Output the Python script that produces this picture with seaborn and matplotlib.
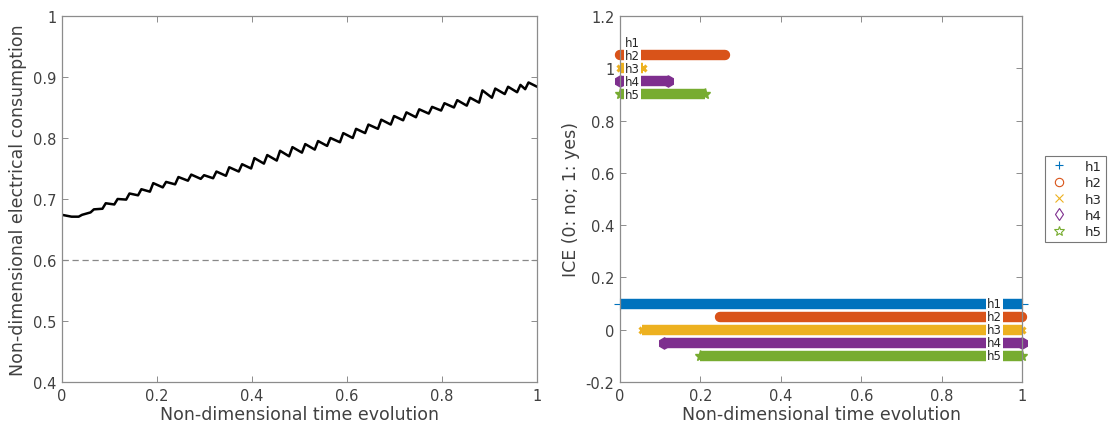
import matplotlib
matplotlib.use("Agg")
import matplotlib.pyplot as plt
from matplotlib.lines import Line2D
from matplotlib.ticker import FuncFormatter
import seaborn as sns
import pandas as pd

# ---------------- data ----------------
time_points = [0.000, 0.020, 0.035, 0.042, 0.060, 0.067, 0.085, 0.092, 0.110, 0.117,
               0.135, 0.142, 0.160, 0.167, 0.185, 0.192, 0.212, 0.219, 0.238, 0.245,
               0.265, 0.272, 0.292, 0.299, 0.318, 0.325, 0.345, 0.352, 0.372, 0.379,
               0.398, 0.405, 0.425, 0.432, 0.452, 0.459, 0.478, 0.485, 0.505, 0.512,
               0.532, 0.539, 0.558, 0.565, 0.585, 0.592, 0.612, 0.619, 0.638, 0.645,
               0.665, 0.672, 0.692, 0.699, 0.718, 0.725, 0.745, 0.752, 0.772, 0.779,
               0.798, 0.805, 0.825, 0.832, 0.852, 0.859, 0.878, 0.885, 0.905, 0.912,
               0.932, 0.939, 0.958, 0.965, 0.975, 0.982, 1.000]
consumption = [0.674, 0.671, 0.671, 0.674, 0.678, 0.683, 0.684, 0.693, 0.691, 0.700,
               0.699, 0.709, 0.706, 0.716, 0.712, 0.726, 0.719, 0.728, 0.724, 0.736,
               0.730, 0.740, 0.733, 0.739, 0.734, 0.745, 0.738, 0.752, 0.745, 0.757,
               0.750, 0.767, 0.758, 0.772, 0.763, 0.779, 0.770, 0.785, 0.776, 0.790,
               0.781, 0.795, 0.787, 0.800, 0.793, 0.808, 0.800, 0.815, 0.808, 0.822,
               0.815, 0.830, 0.822, 0.836, 0.829, 0.842, 0.834, 0.847, 0.840, 0.851,
               0.845, 0.857, 0.850, 0.862, 0.853, 0.866, 0.858, 0.878, 0.866, 0.881,
               0.872, 0.884, 0.875, 0.887, 0.880, 0.891, 0.884]
reference_level = 0.6

series = ["h1", "h2", "h3", "h4", "h5"]
top_levels = [1.10, 1.05, 1.00, 0.95, 0.90]
top_start = [0.0, 0.0, 0.0, 0.0, 0.0]
top_end = [0.0, 0.26, 0.057, 0.119, 0.211]
bottom_levels = [0.10, 0.05, 0.00, -0.05, -0.10]
bottom_start = [0.0, 0.249, 0.055, 0.109, 0.199]
bottom_end = [1.0, 1.0, 1.0, 1.0, 1.0]

colors = ["#0072BD", "#D95319", "#EDB120", "#7E2F8E", "#77AC30"]
markers = ["+", "o", "x", "d", "*"]

# ---------------- figure ----------------
sns.set_style("white")
plt.rcParams["font.family"] = ["DejaVu Sans"]
grey = "#404040"
spine_c = "#8c8c8c"

fig = plt.figure(figsize=(11.14, 4.31), dpi=100)
ax1 = fig.add_axes([0.0557, 0.1114, 0.4264, 0.8492])
ax2 = fig.add_axes([0.5566, 0.1114, 0.3609, 0.8492])

df = pd.DataFrame({"t": time_points, "c": consumption})
sns.lineplot(data=df, x="t", y="c", ax=ax1, color="black", linewidth=1.8)
ax1.axhline(reference_level, color="#888888", linestyle=(0, (5, 3)), linewidth=0.9)
ax1.set_xlim(0, 1)
ax1.set_ylim(0.4, 1)
ax1.set_xticks([0, 0.2, 0.4, 0.6, 0.8, 1])
ax1.set_yticks([0.4, 0.5, 0.6, 0.7, 0.8, 0.9, 1])
ax1.set_xlabel("Non-dimensional time evolution", fontsize=12.5, color=grey, labelpad=2)
ax1.set_ylabel("Non-dimensional electrical consumption", fontsize=12.5, color=grey, labelpad=4)

# right panel
lw = 7.5
for i, name in enumerate(series):
    c = colors[i]
    cap = "round" if markers[i] == "o" else "butt"
    for lev, x0, x1 in ((top_levels[i], top_start[i], top_end[i]),
                        (bottom_levels[i], bottom_start[i], bottom_end[i])):
        if x1 > x0:
            ax2.plot([x0, x1], [lev, lev], color=c, linewidth=lw,
                     solid_capstyle=cap, clip_on=False, zorder=2)
            m = markers[i]
            if m == "d":
                ax2.plot([x0, x1], [lev, lev], linestyle="none", marker="h",
                         markersize=8, color=c, clip_on=False, zorder=2)
            elif m == "*":
                ax2.plot([x0, x1], [lev, lev], linestyle="none", marker="*",
                         markersize=8, color=c, clip_on=False, zorder=2)
            elif m == "x":
                ax2.plot([x0, x1], [lev, lev], linestyle="none", marker="x",
                         markersize=5, mew=2.2, color=c, clip_on=False, zorder=2)
            elif m == "+":
                ax2.plot([x0, x1], [lev, lev], linestyle="none", marker="+",
                         markersize=8, mew=0.8, color=c, clip_on=False, zorder=2)
    # labels
    ax2.text(0.012, top_levels[i], name, fontsize=8.5, color="#262626",
             va="center", ha="left", zorder=3,
             bbox=dict(boxstyle="square,pad=0.08", fc="white", ec="none"))
    ax2.text(0.913, bottom_levels[i], name, fontsize=8.5, color="#262626",
             va="center", ha="left", zorder=3,
             bbox=dict(boxstyle="square,pad=0.08", fc="white", ec="none"))

ax2.set_xlim(0, 1)
ax2.set_ylim(-0.2, 1.2)
ax2.set_xticks([0, 0.2, 0.4, 0.6, 0.8, 1])
ax2.set_yticks([-0.2, 0, 0.2, 0.4, 0.6, 0.8, 1, 1.2])
ax2.set_xlabel("Non-dimensional time evolution", fontsize=12.5, color=grey, labelpad=2)
ax2.set_ylabel("ICE (0: no; 1: yes)", fontsize=12.5, color=grey, labelpad=4)

fmt = FuncFormatter(lambda v, p: ("%g" % round(v, 6)))
for ax in (ax1, ax2):
    ax.xaxis.set_major_formatter(fmt)
    ax.yaxis.set_major_formatter(fmt)
    for s in ax.spines.values():
        s.set_color(spine_c)
        s.set_linewidth(0.9)
        s.set_visible(True)
    ax.tick_params(direction="in", length=4, width=0.7, color=spine_c,
                   labelsize=10.5, labelcolor=grey, top=True, right=True,
                   bottom=True, left=True, pad=4)

handles = [Line2D([], [], linestyle="none", marker=markers[i], color=colors[i],
                  markerfacecolor="none", markersize=6, mew=0.8, label=series[i])
           for i in range(5)]
handles[4] = Line2D([], [], linestyle="none", marker="*", color=colors[4],
                    markerfacecolor="none", markersize=7, mew=0.8, label="h5")
leg = fig.legend(handles=handles, loc="upper left",
                 bbox_to_anchor=(1045 / 1114, 1 - 157 / 431),
                 frameon=True, fancybox=False, fontsize=9.5,
                 handletextpad=1.2, borderpad=0.3, labelspacing=0.25,
                 borderaxespad=0, handlelength=1.5)
leg.get_frame().set_edgecolor("#555555")
leg.get_frame().set_linewidth(0.8)

fig.savefig("out.png", dpi=100)
